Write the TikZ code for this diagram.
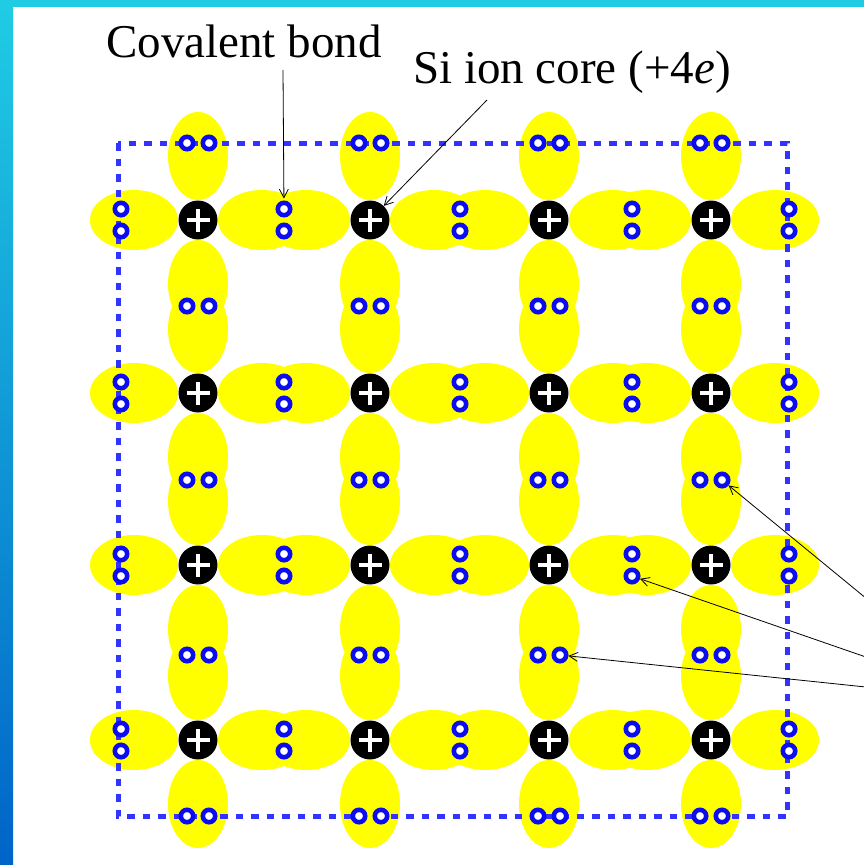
\documentclass[tikz,border=0pt]{standalone}
\usepackage{fontspec}
\setmainfont{Liberation Serif}
\usetikzlibrary{arrows.meta}
\definecolor{lobe}{RGB}{255,255,0}
\definecolor{eblue}{RGB}{12,12,240}
\definecolor{cellblue}{RGB}{51,51,255}
\definecolor{bartop}{RGB}{32,204,228}
\definecolor{barmid}{RGB}{0,135,225}
\definecolor{barbot}{RGB}{0,100,200}

\begin{document}
\begin{tikzpicture}[x=1pt, y=-1pt,
    ion/.style={circle, fill=black, minimum size=39pt, inner sep=0pt},
    elec/.style={circle, draw=eblue, fill=white, line width=4.6pt,
                 minimum size=12.4pt, inner sep=0pt},
    plus/.style={white, line width=3.6pt},
    cell/.style={cellblue, line width=5pt, dash pattern=on 7.5pt off 8pt},
    ptr/.style={black, line width=0.8pt, -{Straight Barb[length=8.5pt,width=9pt]}},
    lab/.style={font=\fontsize{47}{50}\selectfont, inner sep=0pt}]
  \clip (0,0) rectangle (864,865);
  \fill[white] (0,0) rectangle (864,865);
  % frame bars
  \shade[top color=bartop, middle color=barmid, bottom color=barbot]
    (0,0) rectangle (13,865);
  \fill[bartop] (0,0) rectangle (864,7);

  % sp3 lobes round every ion
  \foreach \x in {198,370,549,711}
    \foreach \y in {220,393,565,740} {
      \fill[lobe] (\x-64,\y) ellipse [x radius=44, y radius=30];
      \fill[lobe] (\x+64,\y) ellipse [x radius=44, y radius=30];
      \fill[lobe] (\x,\y-64) ellipse [x radius=30, y radius=44];
      \fill[lobe] (\x,\y+64) ellipse [x radius=30, y radius=44];
    }

  % unit cell
  \draw[cell] (118,143) rectangle (787,816);

  % ion cores
  \foreach \x [count=\c] in {198,370,549,711}
    \foreach \y [count=\r] in {220,393,565,740} {
      \node[ion] (I-\c-\r) at (\x,\y) {};
      \draw[plus] ([xshift=-11.5pt]I-\c-\r.center) -- ([xshift=11.5pt]I-\c-\r.center);
      \draw[plus] ([yshift=-11.5pt]I-\c-\r.center) -- ([yshift=11.5pt]I-\c-\r.center);
    }

  % bond electrons along the rows
  \foreach \y [count=\r] in {220,393,565,740}
    \foreach \x [count=\k] in {121,284,460,632,789} {
      \node[elec] (eh-\r-\k-a) at (\x,\y-11) {};
      \node[elec] (eh-\r-\k-b) at (\x,\y+11) {};
    }
  % bond electrons along the columns
  \foreach \x [count=\c] in {198,370,549,711}
    \foreach \y [count=\k] in {143,306,480,655,816} {
      \node[elec] (ev-\c-\k-a) at (\x-11,\y) {};
      \node[elec] (ev-\c-\k-b) at (\x+11,\y) {};
    }

  % labels
  \node[lab, anchor=base] (covlab) at (244,57) {Covalent bond};
  \node[lab, anchor=base west] (corelab) at (413,83) {Si ion core (+4\textit{e})};
  \coordinate (covtail) at (283,70);
  \coordinate (coretail) at (487,100);
  \coordinate (valence) at (990,700);

  \draw[ptr, shorten >=2pt] (covtail) -- (eh-1-2-a);
  \draw[ptr] (coretail) -- (I-2-1);
  \draw[ptr] (valence) -- (ev-4-3-b);
  \draw[ptr] (valence) -- (eh-3-4-b);
  \draw[ptr] (valence) -- (ev-3-4-b);
\end{tikzpicture}
\end{document}
